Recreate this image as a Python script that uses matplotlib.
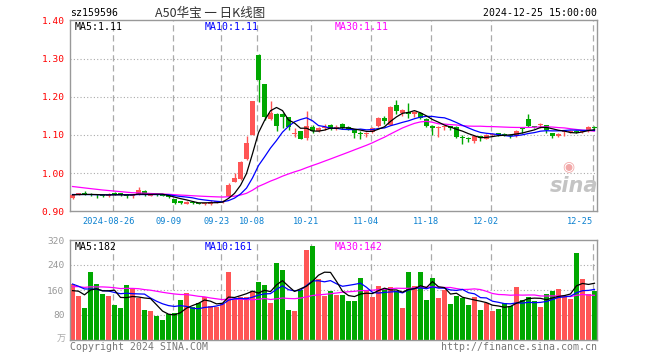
import numpy as np
import pandas as pd
import matplotlib
matplotlib.use('Agg')
import matplotlib.pyplot as plt

dates = ['2024-08-15', '2024-08-16', '2024-08-19', '2024-08-20', '2024-08-21', '2024-08-22', '2024-08-23',
         '2024-08-26', '2024-08-27', '2024-08-28', '2024-08-29', '2024-08-30',
         '2024-09-02', '2024-09-03', '2024-09-04', '2024-09-05', '2024-09-06',
         '2024-09-09', '2024-09-10', '2024-09-11', '2024-09-12', '2024-09-13',
         '2024-09-18', '2024-09-19', '2024-09-20',
         '2024-09-23', '2024-09-24', '2024-09-25', '2024-09-26', '2024-09-27', '2024-09-30',
         '2024-10-08', '2024-10-09', '2024-10-10', '2024-10-11',
         '2024-10-14', '2024-10-15', '2024-10-16', '2024-10-17', '2024-10-18',
         '2024-10-21', '2024-10-22', '2024-10-23', '2024-10-24', '2024-10-25',
         '2024-10-28', '2024-10-29', '2024-10-30', '2024-10-31', '2024-11-01',
         '2024-11-04', '2024-11-05', '2024-11-06', '2024-11-07', '2024-11-08',
         '2024-11-11', '2024-11-12', '2024-11-13', '2024-11-14', '2024-11-15',
         '2024-11-18', '2024-11-19', '2024-11-20', '2024-11-21', '2024-11-22',
         '2024-11-25', '2024-11-26', '2024-11-27', '2024-11-28', '2024-11-29',
         '2024-12-02', '2024-12-03', '2024-12-04', '2024-12-05', '2024-12-06',
         '2024-12-09', '2024-12-10', '2024-12-11', '2024-12-12', '2024-12-13',
         '2024-12-16', '2024-12-17', '2024-12-18', '2024-12-19', '2024-12-20',
         '2024-12-23', '2024-12-24', '2024-12-25']

opens = [0.936, 0.944, 0.947, 0.946, 0.943, 0.942, 0.940, 0.947, 0.946, 0.944,
         0.939, 0.944, 0.954, 0.941, 0.943, 0.942, 0.942, 0.932, 0.925, 0.920,
         0.925, 0.922, 0.918, 0.920, 0.923, 0.925, 0.940, 0.978, 0.985, 1.037,
         1.101, 1.309, 1.232, 1.141, 1.155, 1.155, 1.146, 1.103, 1.109, 1.092,
         1.121, 1.110, 1.118, 1.126, 1.116, 1.128, 1.121, 1.114, 1.106, 1.103,
         1.108, 1.123, 1.145, 1.127, 1.177, 1.157, 1.160, 1.155, 1.157, 1.142,
         1.123, 1.119, 1.121, 1.122, 1.121, 1.094, 1.090, 1.085, 1.096, 1.090,
         1.100, 1.103, 1.102, 1.101, 1.097, 1.117, 1.141, 1.122, 1.125, 1.126,
         1.104, 1.097, 1.108, 1.107, 1.111, 1.107, 1.110, 1.121]
highs = [0.945, 0.949, 0.952, 0.947, 0.944, 0.943, 0.948, 0.950, 0.947, 0.945,
         0.942, 0.964, 0.955, 0.945, 0.944, 0.944, 0.943, 0.933, 0.926, 0.926,
         0.926, 0.923, 0.923, 0.929, 0.928, 0.930, 0.974, 1.000, 1.032, 1.096,
         1.190, 1.312, 1.234, 1.188, 1.158, 1.157, 1.148, 1.118, 1.110, 1.163,
         1.126, 1.121, 1.128, 1.128, 1.125, 1.131, 1.124, 1.116, 1.110, 1.107,
         1.121, 1.148, 1.150, 1.176, 1.191, 1.168, 1.184, 1.162, 1.160, 1.144,
         1.126, 1.122, 1.125, 1.124, 1.123, 1.100, 1.095, 1.098, 1.098, 1.102,
         1.106, 1.105, 1.104, 1.102, 1.113, 1.118, 1.156, 1.124, 1.130, 1.127,
         1.106, 1.105, 1.111, 1.112, 1.112, 1.111, 1.122, 1.123]
lows = [0.933, 0.943, 0.943, 0.941, 0.936, 0.937, 0.938, 0.942, 0.941, 0.936,
        0.935, 0.942, 0.940, 0.939, 0.940, 0.939, 0.936, 0.919, 0.918, 0.918,
        0.919, 0.918, 0.916, 0.916, 0.921, 0.923, 0.938, 0.976, 0.982, 1.035,
        1.100, 1.186, 1.140, 1.138, 1.110, 1.118, 1.112, 1.094, 1.088, 1.087,
        1.104, 1.107, 1.113, 1.112, 1.113, 1.115, 1.113, 1.093, 1.090, 1.095,
        1.106, 1.120, 1.128, 1.125, 1.155, 1.150, 1.145, 1.146, 1.142, 1.120,
        1.100, 1.095, 1.113, 1.114, 1.093, 1.075, 1.082, 1.080, 1.085, 1.088,
        1.096, 1.098, 1.097, 1.093, 1.095, 1.106, 1.120, 1.118, 1.118, 1.106,
        1.093, 1.095, 1.098, 1.105, 1.105, 1.104, 1.108, 1.115]
closes = [0.943, 0.947, 0.944, 0.943, 0.942, 0.940, 0.945, 0.945, 0.944, 0.940,
          0.941, 0.955, 0.943, 0.943, 0.942, 0.941, 0.938, 0.922, 0.923, 0.925,
          0.921, 0.920, 0.922, 0.924, 0.926, 0.928, 0.969, 0.987, 1.030, 1.080,
          1.188, 1.244, 1.146, 1.158, 1.123, 1.147, 1.121, 1.106, 1.090, 1.124,
          1.110, 1.119, 1.120, 1.116, 1.121, 1.118, 1.116, 1.105, 1.103, 1.104,
          1.118, 1.145, 1.136, 1.174, 1.163, 1.165, 1.156, 1.160, 1.145, 1.123,
          1.117, 1.121, 1.123, 1.118, 1.095, 1.092, 1.088, 1.096, 1.092, 1.100,
          1.102, 1.101, 1.100, 1.098, 1.111, 1.115, 1.122, 1.120, 1.129, 1.112,
          1.097, 1.103, 1.109, 1.110, 1.107, 1.110, 1.121, 1.119]
volumes = [179, 141, 102, 218, 179, 147, 141, 112, 102, 176,
           165, 133, 96, 93, 77, 64, 83, 85, 128, 150,
           105, 119, 138, 109, 107, 115, 218, 131, 139, 138,
           156, 186, 176, 118, 246, 224, 96, 93, 160, 288,
           301, 195, 141, 157, 144, 144, 125, 125, 198, 157,
           138, 173, 163, 170, 157, 102, 218, 173, 218, 128,
           198, 134, 160, 115, 141, 134, 112, 138, 96, 118,
           93, 99, 118, 109, 170, 128, 138, 125, 106, 147,
           157, 163, 138, 131, 278, 195, 147, 157]

# history before the first visible day, only needed for the moving averages
prior_close = [1.002, 1.000, 0.998, 0.995, 0.993, 0.990, 0.988, 0.986, 0.985, 0.983,
               0.970, 0.967, 0.965, 0.962, 0.960, 0.958, 0.955, 0.953, 0.950, 0.948,
               0.946, 0.945, 0.944, 0.945, 0.943, 0.944, 0.942, 0.943, 0.944]
prior_volume = [150, 175, 160, 190, 145, 170, 165, 180, 155, 170,
                160, 185, 150, 175, 165, 170, 160, 180, 155, 180,
                210, 190, 220, 185, 195, 150, 160, 140, 161]

tick_dates = ['2024-08-26', '2024-09-09', '2024-09-23', '2024-10-08', '2024-10-21',
              '2024-11-04', '2024-11-18', '2024-12-02', '2024-12-25']
price_ticks = [0.90, 1.00, 1.10, 1.20, 1.30, 1.40]
vol_ticks = [80, 160, 240, 320]

RED = '#FF5555'
GREEN = '#00A800'
GRID = '#AAAAAA'

plt.rcParams['font.family'] = ['DejaVu Sans Mono']
W, H = 660, 360
fig = plt.figure(figsize=(6.6, 3.6), dpi=100)


def fx(px):
    return px / W


def fy(py):
    return 1 - py / H


ax = fig.add_axes([fx(70), fy(211.3), 527 / W, 191 / H])
axv = fig.add_axes([fx(70), fy(340), 527 / W, 100 / H])

x = np.arange(len(dates))
o = np.array(opens)
h = np.array(highs)
l = np.array(lows)
c = np.array(closes)
col = np.where(c >= o, RED, GREEN)

n = len(prior_close)
cs = pd.Series(prior_close + closes)
vs = pd.Series(prior_volume + volumes)
ma = {k: cs.rolling(k).mean().values[n:] for k in (5, 10, 30)}
mav = {k: vs.rolling(k).mean().values[n:] for k in (5, 10, 30)}

tick_pos = [dates.index(d) - 0.3 for d in tick_dates]

for a in (ax, axv):
    a.set_xlim(-0.42, 87.42)
    for p in tick_pos:
        a.axvline(p, color=GRID, lw=0.9, ls=(0, (5, 3)), zorder=0)
    for s in a.spines.values():
        s.set_color('#999999')
        s.set_linewidth(1.0)
    a.set_xticks([])
    a.tick_params(axis='y', length=0, pad=4, labelsize=6.8)

# sina watermark (behind the marks)
ax.text(0.957, 0.135, 'sina', transform=ax.transAxes, fontsize=15, ha='center', va='center',
        color='#C4C4C4', style='italic', weight='bold', family='DejaVu Sans', zorder=1)
ax.text(0.945, 0.235, '◉', transform=ax.transAxes, fontsize=10, ha='center', va='center',
        color='#F2A8A8', family='DejaVu Sans', zorder=1)

# price panel
ax.set_ylim(0.90, 1.40)
for v in price_ticks[1:-1]:
    ax.axhline(v, color=GRID, lw=0.8, ls=(0, (1, 2)), zorder=0)
ax.vlines(x, l, h, colors=col, lw=1.0, zorder=2)
ax.bar(x, np.maximum(np.abs(c - o), 0.0027), 0.8, bottom=np.minimum(o, c),
       color=col, lw=0, zorder=3)
ax.plot(x, ma[30], color='#FF00FF', lw=0.9, zorder=4)
ax.plot(x, ma[10], color='#0000FF', lw=0.9, zorder=5)
ax.plot(x, ma[5], color='black', lw=0.9, zorder=6)
ax.set_yticks(price_ticks)
ax.set_yticklabels([f'{v:.2f}' for v in price_ticks], color='red')

for d, p in zip(tick_dates, tick_pos):
    lab = d if d == tick_dates[0] else d[5:]
    if d == tick_dates[-1]:
        ax.text(p, -0.051, lab, transform=ax.get_xaxis_transform(), ha='right', va='center',
                fontsize=6.2, color='#0A80D0')
    else:
        ax.text(p - 0.7, -0.051, lab, transform=ax.get_xaxis_transform(), ha='center',
                va='center', fontsize=6.2, color='#0A80D0')

# volume panel
axv.set_ylim(0, 320)
for v in vol_ticks[:-1]:
    axv.axhline(v, color=GRID, lw=0.8, ls=(0, (1, 2)), zorder=0)
axv.bar(x, volumes, 0.83, color=col, lw=0, zorder=2)
axv.plot(x, mav[30], color='#FF00FF', lw=0.9, zorder=4)
axv.plot(x, mav[10], color='#0000FF', lw=0.9, zorder=5)
axv.plot(x, mav[5], color='black', lw=0.9, zorder=6)
axv.set_yticks(vol_ticks)
axv.set_yticklabels([str(v) for v in vol_ticks], color='#999999')

# texts
fig.text(fx(70), fy(13), 'sz159596', fontsize=7.1, ha='left', va='center', color='black')
fig.text(fx(210), fy(13), 'A50华宝 一 日K线图', fontsize=9, ha='center', va='center',
         color='#333333', family=['Noto Sans CJK SC', 'DejaVu Sans'])
fig.text(fx(597), fy(13), '2024-12-25 15:00:00', fontsize=7.1, ha='right', va='center',
         color='black')

fig.text(fx(75), fy(26.5), 'MA5:1.11', fontsize=7.1, va='center', color='black')
fig.text(fx(205), fy(26.5), 'MA10:1.11', fontsize=7.1, va='center', color='#0000FF')
fig.text(fx(334.5), fy(26.5), 'MA30:1.11', fontsize=7.1, va='center', color='#FF00FF')
fig.text(fx(75), fy(246.5), 'MA5:182', fontsize=7.1, va='center', color='black')
fig.text(fx(205), fy(246.5), 'MA10:161', fontsize=7.1, va='center', color='#0000FF')
fig.text(fx(334.5), fy(246.5), 'MA30:142', fontsize=7.1, va='center', color='#FF00FF')

fig.text(fx(66), fy(339.5), '万', fontsize=6.5, ha='right', va='center', color='#AAAAAA',
         family=['Noto Sans CJK SC', 'DejaVu Sans'])
fig.text(fx(70), fy(347), 'Copyright 2024 SINA.COM', fontsize=7.1, va='center', color='#777777')
fig.text(fx(597), fy(347), 'http://finance.sina.com.cn', fontsize=7.1, ha='right', va='center',
         color='#777777')

fig.savefig('out.png', dpi=100)
